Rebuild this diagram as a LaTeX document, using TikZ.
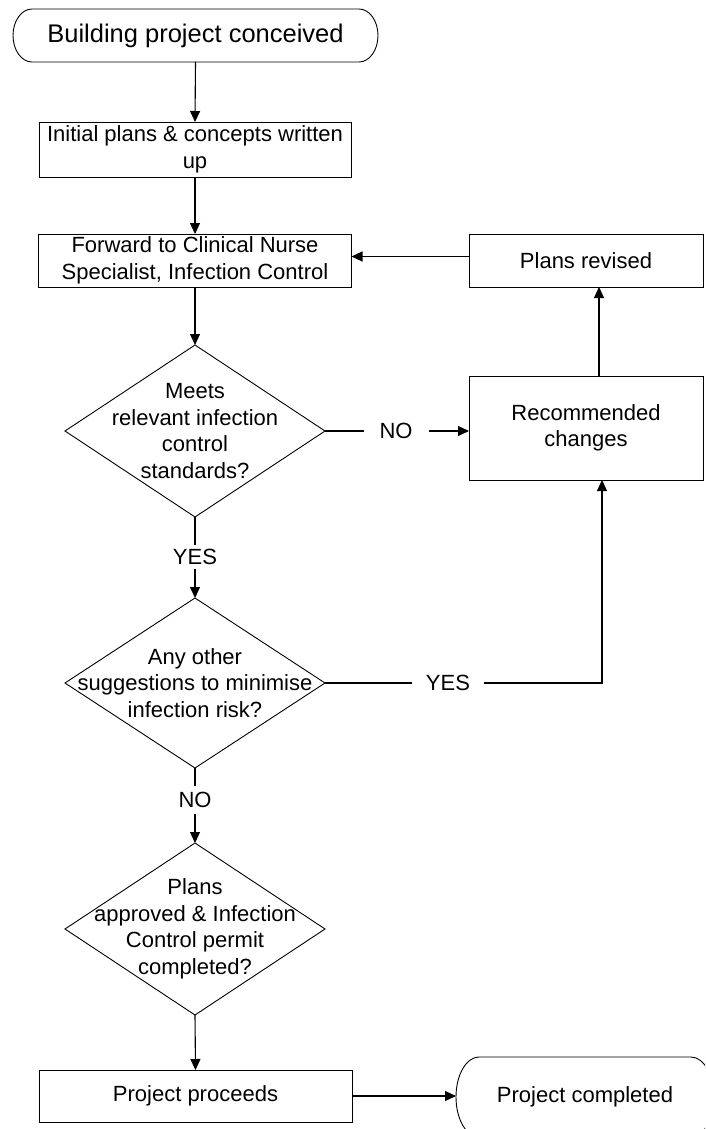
\documentclass[tikz,border=0pt]{standalone}
\usepackage{fontspec}
\setmainfont{Liberation Sans}
\usetikzlibrary{shapes.geometric,arrows.meta,calc}
\tikzset{
 base/.style={font=\fontsize{22}{26.5}\selectfont, align=center, inner sep=0pt, outer sep=0pt},
 box/.style={base, draw, line width=0.9pt, rectangle},
 dec/.style={base, draw, line width=0.9pt, diamond},
 term/.style={base, rectangle},
 lbl/.style={base, inner xsep=16pt, inner ysep=5pt},
 arr/.style={line width=1.1pt, -{Triangle[length=11pt,width=10pt]}},
 con/.style={line width=1.1pt},
 termline/.style={line width=0.9pt}
}
\begin{document}
\begin{tikzpicture}[x=1pt,y=-1pt]
\clip (0,0) rectangle (705,1129);
\fill[white] (0,0) rectangle (705,1129);

% start terminal
\node[term, minimum width=365pt, minimum height=53pt, font=\fontsize{25.5}{30}\selectfont] (start) at (195.5,35.5) {Building project conceived};
\draw[termline] ([xshift=19pt]start.north west) -- ([xshift=-19pt]start.north east)
  arc[start angle=90,end angle=-90,x radius=19pt,y radius=26.5pt]
  -- ([xshift=19pt]start.south west)
  arc[start angle=270,end angle=90,x radius=19pt,y radius=26.5pt] -- cycle;

% boxes
\node[box, minimum width=312pt, minimum height=55pt] (init) at (195,149.5) {Initial plans \& concepts written\\up};
\node[box, minimum width=313pt, minimum height=53pt] (fwd) at (195,260.5) {Forward to Clinical Nurse\\Specialist, Infection Control};
\node[box, minimum width=234pt, minimum height=53pt] (rev) at (586,260.5) {Plans revised};
\node[box, minimum width=234pt, minimum height=104pt] (rec) at (586,428) {Recommended\\changes};

% decisions
\node[dec, minimum width=260pt, minimum height=172pt] (d1) at (195,431) {};
\node[base] (d1t) at (d1.center) {Meets\\relevant infection\\control\\standards?};
\node[dec, minimum width=260pt, minimum height=170pt] (d2) at (195,683) {};
\node[base] (d2t) at (d2.center) {Any other\\suggestions to minimise\\infection risk?};
\node[dec, minimum width=260pt, minimum height=172pt] (d3) at (195,929) {};
\node[base] (d3t) at (d3.center) {Plans\\approved \& Infection\\Control permit\\completed?};

\node[box, minimum width=313pt, minimum height=52pt] (proc) at (195.5,1096) {Project proceeds};

% end terminal
\node[term, minimum width=258pt, minimum height=80pt] (done) at (585,1097) {Project completed};
\draw[termline] ([xshift=23pt]done.north west) -- ([xshift=-23pt]done.north east)
  arc[start angle=90,end angle=-90,x radius=23pt,y radius=40pt]
  -- ([xshift=23pt]done.south west)
  arc[start angle=270,end angle=90,x radius=23pt,y radius=40pt] -- cycle;

% labels
\node[lbl] (no1) at (396,431) {NO};
\node[lbl, inner xsep=14pt] (yes2) at (448,683) {YES};
\node[lbl, inner ysep=4pt] (yes1) at (195,557) {YES};
\node[lbl, inner ysep=6pt] (no2) at (195,800) {NO};
\coordinate (c1) at (602,683);
\coordinate (c2) at (599,376);

% connectors
\draw[arr] (start.south) -- (init.north);
\draw[arr] (init.south) -- (fwd.north);
\draw[arr] (fwd.south) -- (d1.north);
\draw[con] (d1.east) -- (no1.west);
\draw[arr] (no1.east) -- (no1.east -| rec.west);
\draw[con] (d1.south) -- (yes1.north);
\draw[arr] (yes1.south) -- (d2.north);
\draw[con] (d2.east) -- (yes2.west);
\draw[arr] (yes2.east) -- (c1) -- (c1 |- rec.south);
\draw[arr] (c2 |- rec.north) -- (c2 |- rev.south);
\draw[arr] ([yshift=4pt]rev.west) -- ([yshift=4pt]rev.west -| fwd.east);
\draw[con] (d2.south) -- (no2.north);
\draw[arr] (no2.south) -- (d3.north);
\draw[arr] (d3.south) -- (proc.north);
\draw[arr] (proc.east) -- (proc.east -| done.west);
\end{tikzpicture}
\end{document}
